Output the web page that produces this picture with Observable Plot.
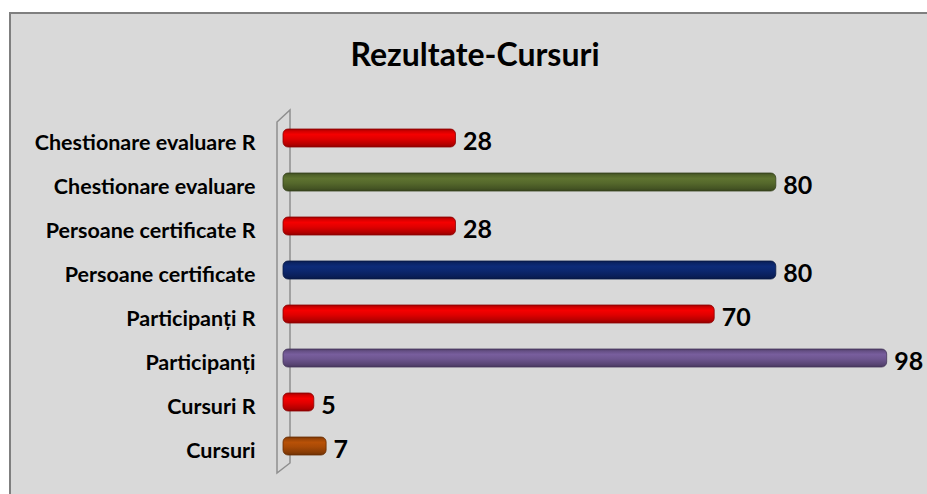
<!DOCTYPE html>
<html><head><meta charset="utf-8">
<script src="https://cdn.jsdelivr.net/npm/d3@7"></script>
<script src="https://cdn.jsdelivr.net/npm/@observablehq/plot@0.6"></script>
<style>
html,body{margin:0;padding:0;background:#fff;overflow:hidden;}
#wrap{position:relative;width:927px;height:494px;overflow:hidden;font-family:Lato,"Open Sans",sans-serif;}
#frame{position:absolute;left:9px;top:12px;width:980px;height:520px;background:#d9d9d9;border-left:2px solid #7f7f7f;border-top:2px solid #7f7f7f;box-sizing:border-box;}
#title{position:absolute;left:5px;width:940px;top:34px;text-align:center;font-weight:bold;font-size:32px;color:#000;line-height:40px;}
#chart{position:absolute;left:0;top:90px;}
</style></head>
<body><div id="wrap"><div id="frame"></div><div id="title">Rezultate-Cursuri</div><div id="chart"></div></div>
<script>
const categories = ["Chestionare evaluare R","Chestionare evaluare","Persoane certificate R","Persoane certificate","Participanți R","Participanți","Cursuri R","Cursuri"];
const values = [28, 80, 28, 80, 70, 98, 5, 7];
const barColors = ["#e00000","#56692c","#e00000","#0c276e","#e00000","#6e5690","#e00000","#a84a06"];

const data = categories.map((c, i) => ({
  category: c,
  value: values[i],
  grad: `url(#cyl${i})`,
  edge: d3.color(barColors[i]).darker(1.3).formatHex()
}));

const defsMark = () => {
  const defs = d3.create("svg:defs");
  barColors.forEach((c, i) => {
    const g = defs.append("linearGradient").attr("id", `cyl${i}`).attr("x1", 0).attr("x2", 0).attr("y1", 0).attr("y2", 1);
    const base = d3.color(c);
    [[0, base.darker(0.9)], [0.12, base.darker(0.2)], [0.3, base.brighter(0.25)], [0.55, base], [0.85, base.darker(0.6)], [1, base.darker(1.2)]]
      .forEach(([o, col]) => g.append("stop").attr("offset", o).attr("stop-color", col.formatHex()));
  });
  return defs.node();
};

const wallMark = (index, scales, values, dims) => {
  const x0 = scales.x(0);
  const t = dims.marginTop, b = dims.height - dims.marginBottom;
  const path = `M${x0 - 6},${t + 6} L${x0 + 7},${t - 6} L${x0 + 7},${b - 5} L${x0 - 6},${b + 5} Z`;
  return d3.create("svg:path").attr("d", path).attr("fill", "none").attr("stroke", "#8f8f8f").attr("stroke-width", 1.5).node();
};

const chart = Plot.plot({
  width: 927,
  height: 404,
  marginLeft: 283,
  marginRight: 28,
  marginTop: 26,
  marginBottom: 26,
  style: {background: "transparent", fontFamily: "Lato, 'Open Sans', sans-serif", fontSize: "21px", fontWeight: "bold", color: "#000"},
  x: {domain: [0, 100], axis: null},
  y: {domain: categories, paddingInner: 0.59, paddingOuter: 0.295, label: null},
  color: {type: "identity"},
  marks: [
    defsMark,
    wallMark,
    Plot.axisY({tickSize: 0, tickPadding: 28, dy: 5, fontSize: 21.5, fontWeight: "bold", fill: "#000", label: null}),
    Plot.barX(data, {x: "value", y: "category", fill: "grad", stroke: "edge", strokeWidth: 0.8, rx: 5}),
    Plot.text(data, {x: "value", y: "category", text: d => String(d.value), dx: 7, dy: 3, textAnchor: "start", fontSize: 25, fontWeight: "bold", fill: "#000"})
  ]
});
document.getElementById("chart").appendChild(chart);
</script>
</body></html>
